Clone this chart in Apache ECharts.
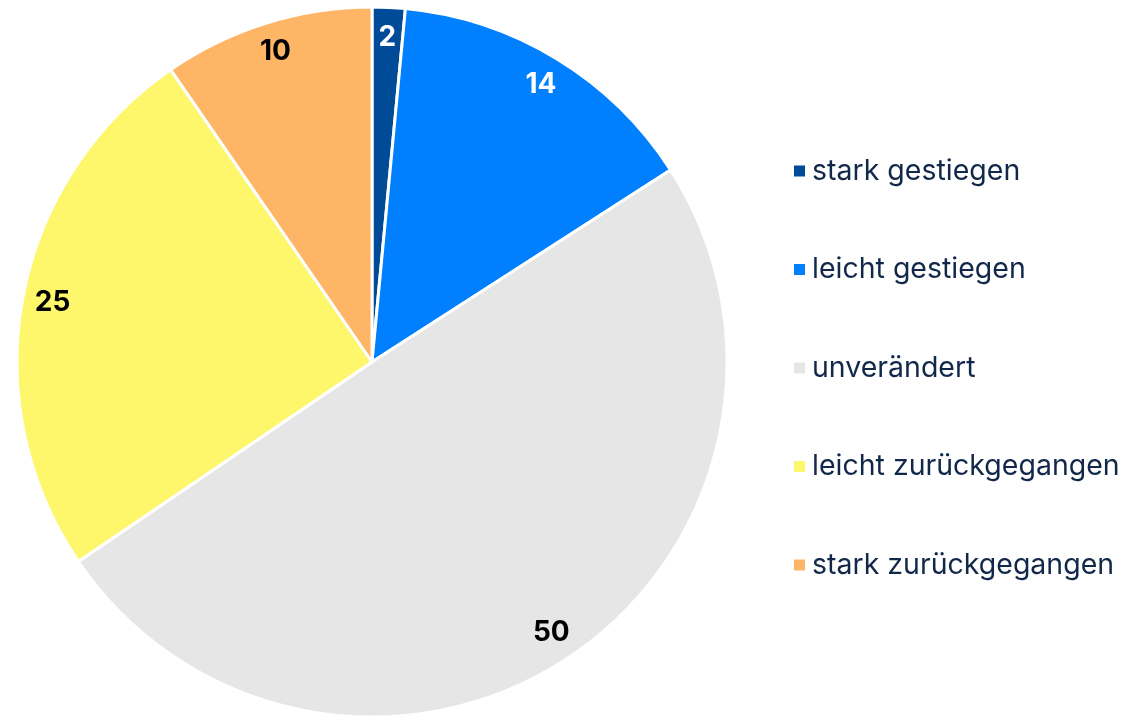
<!DOCTYPE html>
<html>
<head>
<meta charset="utf-8">
<script src="https://cdn.jsdelivr.net/npm/echarts@6/dist/echarts.min.js"></script>
<style>
  html, body { margin: 0; padding: 0; background: #ffffff; }
  #chart { width: 1135px; height: 720px; }
</style>
</head>
<body>
<div id="chart"></div>
<script>
  // Data (shares in %, labels show rounded values)
  var categories = ['stark gestiegen', 'leicht gestiegen', 'unverändert', 'leicht zurückgegangen', 'stark zurückgegangen'];
  var values = [1.5, 14.4, 49.6, 24.9, 9.6];
  var sliceColors = ['#004b97', '#0080ff', '#e6e6e6', '#fff76b', '#ffb566'];
  var labelColors = ['#ffffff', '#ffffff', '#000000', '#000000', '#000000'];

  var chart = echarts.init(document.getElementById('chart'), null, { renderer: 'canvas' });

  var sliceData = categories.map(function (c, i) {
    return { name: c, value: values[i], itemStyle: { color: sliceColors[i] } };
  });

  // label ring: transparent slices, label sits at middle of ring (~0.9 R)
  var labelData = categories.map(function (c, i) {
    return {
      name: c,
      value: values[i],
      itemStyle: { color: 'rgba(0,0,0,0)' },
      label: { color: labelColors[i] }
    };
  });

  chart.setOption({
    backgroundColor: '#ffffff',
    animation: false,
    legend: {
      orient: 'vertical',
      left: 787,
      top: 151,
      itemWidth: 13,
      itemHeight: 13,
      itemGap: 68.5,
      icon: 'rect',
      data: categories,
      textStyle: {
        fontFamily: 'Inter',
        fontSize: 28.5,
        lineHeight: 30,
        color: '#12284a',
        padding: [0, 0, 0, 1]
      }
    },
    series: [{
      type: 'pie',
      center: [372, 362],
      radius: [0, 355],
      startAngle: 90,
      clockwise: true,
      silent: true,
      label: { show: false },
      labelLine: { show: false },
      itemStyle: { borderColor: '#ffffff', borderWidth: 3 },
      data: sliceData
    }, {
      type: 'pie',
      center: [372, 362],
      radius: [289, 355],
      startAngle: 90,
      clockwise: true,
      silent: true,
      legendHoverLink: false,
      label: {
        show: true,
        position: 'inside',
        formatter: function (p) { return Math.round(p.value); },
        fontFamily: 'Inter',
        fontWeight: 'bold',
        fontSize: 28
      },
      labelLine: { show: false },
      data: labelData
    }]
  });
</script>
</body>
</html>
